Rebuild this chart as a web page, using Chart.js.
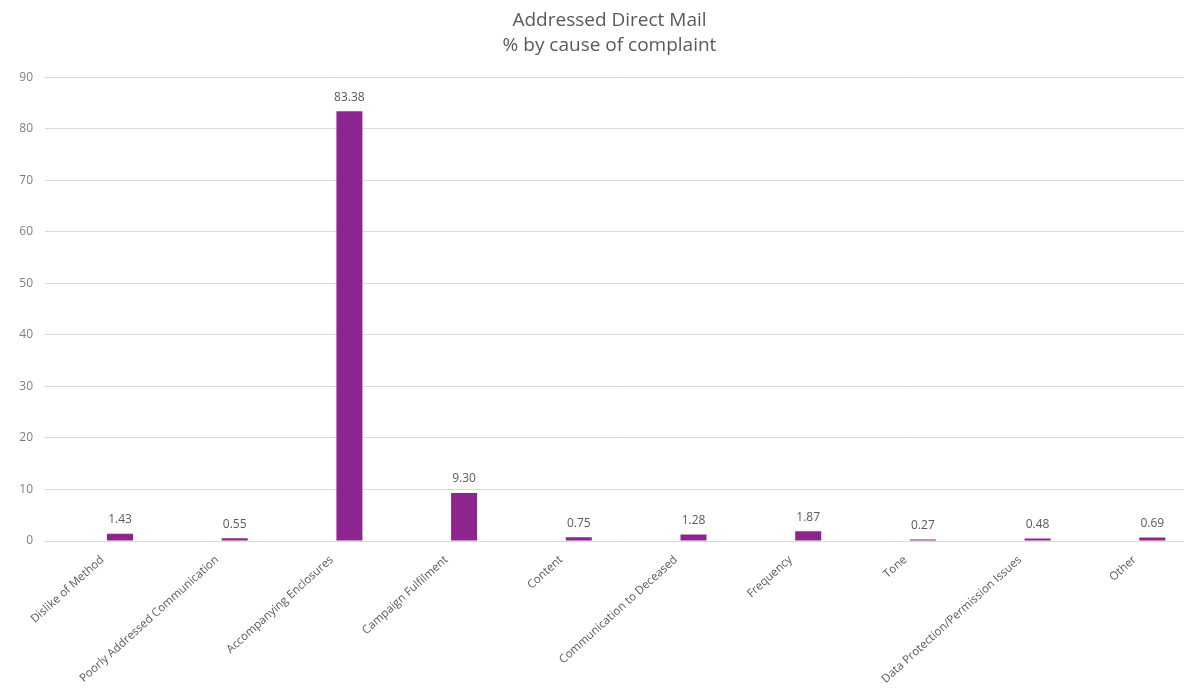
<!DOCTYPE html>
<html>
<head>
<meta charset="utf-8">
<title>Addressed Direct Mail</title>
<script src="https://cdn.jsdelivr.net/npm/chart.js@4.4.0/dist/chart.umd.min.js"></script>
<style>
  html, body { margin: 0; padding: 0; background: #ffffff; overflow: hidden; }
  #wrap { position: relative; width: 1219px; height: 694px; }
</style>
</head>
<body>
<div id="wrap"><canvas id="chart" width="1219" height="694"></canvas></div>
<script>
// Complaint causes (x axis)
const categories = [
  'Dislike of Method',
  'Poorly Addressed Communication',
  'Accompanying Enclosures',
  'Campaign Fulfilment',
  'Content',
  'Communication to Deceased',
  'Frequency',
  'Tone',
  'Data Protection/Permission Issues',
  'Other'
];

// Share of complaints, %
const shares = [1.43, 0.55, 83.38, 9.30, 0.75, 1.28, 1.87, 0.27, 0.48, 0.69];

// Y axis ticks
const yTicks = [0, 10, 20, 30, 40, 50, 60, 70, 80, 90];

const titleLines = ['Addressed Direct Mail', '% by cause of complaint'];

const FONT = '"Open Sans", "DejaVu Sans", sans-serif';
const BAR_COLOR = '#8E248E';

// Prints each bar's value just above it
const valueLabels = {
  id: 'valueLabels',
  afterDatasetsDraw(chart) {
    const ctx = chart.ctx;
    const meta = chart.getDatasetMeta(1);
    const values = chart.data.datasets[1].data;
    ctx.save();
    ctx.font = '12px ' + FONT;
    ctx.fillStyle = '#595959';
    ctx.textAlign = 'center';
    ctx.textBaseline = 'middle';
    meta.data.forEach((bar, i) => {
      ctx.fillText(values[i].toFixed(2), bar.x, bar.y - 14);
    });
    ctx.restore();
  }
};

Chart.defaults.font.family = FONT;

new Chart(document.getElementById('chart'), {
  type: 'bar',
  data: {
    labels: categories,
    datasets: [
      // empty leading series keeps the bars in the right-hand slot of each group
      { label: '', data: categories.map(() => null), backgroundColor: 'rgba(0,0,0,0)' },
      {
        label: '% of complaints',
        data: shares,
        backgroundColor: BAR_COLOR,
        borderWidth: 0,
        yAxisID: 'y'
      }
    ]
  },
  options: {
    responsive: false,
    animation: false,
    devicePixelRatio: 1,
    categoryPercentage: 0.616,
    barPercentage: 0.736,
    layout: { padding: 0 },
    plugins: {
      legend: { display: false },
      tooltip: { enabled: false },
      title: {
        display: true,
        text: titleLines,
        color: '#595959',
        font: { size: 19, weight: 'normal', family: FONT, lineHeight: 1.32 },
        padding: { top: 8, bottom: 19 }
      }
    },
    scales: {
      x: {
        grid: { display: false },
        border: { display: false },
        ticks: {
          color: '#595959',
          font: { size: 11.5, family: FONT },
          minRotation: 42,
          maxRotation: 42,
          autoSkip: false,
          padding: 4
        },
        afterFit(scale) { scale.height = 153; }
      },
      y: {
        min: 0,
        max: 90,
        afterBuildTicks(scale) { scale.ticks = yTicks.map(v => ({ value: v })); },
        grid: { color: '#D9D9D9', lineWidth: 1, drawTicks: false },
        border: { display: false },
        ticks: {
          color: '#7F7F7F',
          font: { size: 12, family: FONT },
          padding: 12
        },
        afterFit(scale) { scale.width = 45; }
      },
      // blank right-hand margin inside the plot frame
      yRight: {
        position: 'right',
        display: true,
        grid: { display: false, drawTicks: false },
        border: { display: false },
        ticks: { display: false },
        afterFit(scale) { scale.width = 27; }
      }
    }
  },
  plugins: [valueLabels]
});
</script>
</body>
</html>
